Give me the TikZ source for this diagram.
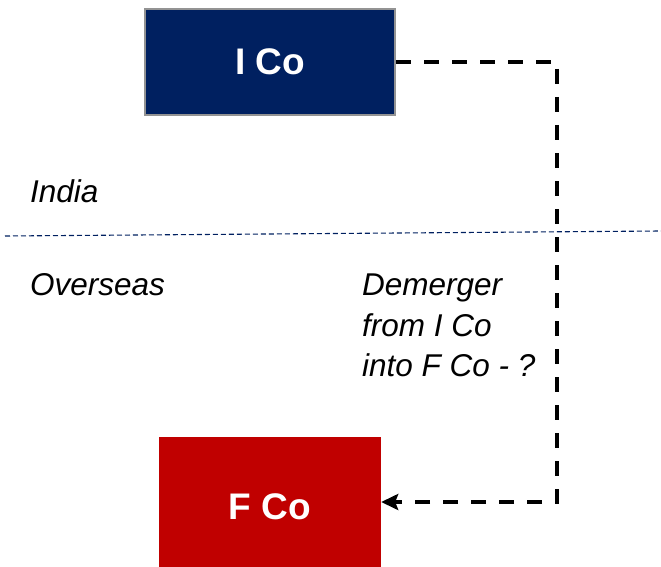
\documentclass[tikz,border=0pt]{standalone}
\usepackage{fontspec}
\setmainfont{Liberation Sans}
\usetikzlibrary{arrows.meta}
\definecolor{navyco}{HTML}{002060}
\definecolor{redco}{HTML}{C00000}
\begin{document}
\begin{tikzpicture}[x=1pt,y=-1pt,
  cobox/.style={draw=none,minimum width=#1,inner sep=0pt,text=white,
    font=\fontsize{37}{44}\selectfont\bfseries},
  regionlabel/.style={anchor=base west,inner sep=0pt,
    font=\fontsize{31.5}{40}\selectfont\itshape},
  flow/.style={line width=3.5pt,dash pattern=on 15pt off 13pt,
    -{Stealth[length=17pt,width=16pt,inset=3pt]}}]
\useasboundingbox (0,0) rectangle (661,567);
% companies
\node[cobox=250pt,minimum height=106pt,fill=navyco,draw=gray!85,line width=2pt]
  (ico) at (270,62) {I Co};
\node[cobox=222pt,minimum height=140pt,fill=redco] (fco) at (270,507) {F Co};
% border between jurisdictions
\coordinate (bl) at (5,236);
\coordinate (br) at (661,231);
\draw[navyco,line width=1.1pt,dash pattern=on 5pt off 3pt] (bl) -- (br);
% region names
\node[regionlabel] (india) at (30,202) {India};
\node[regionlabel] (overseas) at (30,295) {Overseas};
% proposed demerger
\coordinate (bend1) at (557,62);
\coordinate (bend2) at (557,502);
\draw[flow] (ico.east) -- (bend1) -- (bend2) -- (fco.east |- bend2);
\node[regionlabel] (note1) at (362,295) {Demerger};
\node[regionlabel] (note2) at (362,336) {from I Co};
\node[regionlabel] (note3) at (362,376) {into F Co - ?};
\end{tikzpicture}
\end{document}
